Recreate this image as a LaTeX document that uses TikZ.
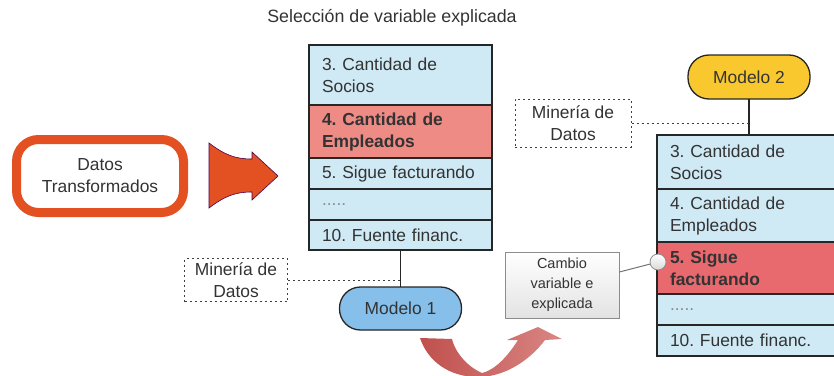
\documentclass[tikz,border=0pt]{standalone}
\usepackage{fontspec}
\setmainfont{Liberation Sans}
\usetikzlibrary{shapes,arrows,positioning,calc}
\usepackage{xcolor}
\frenchspacing
\definecolor{txt}{HTML}{333333}
\definecolor{rowblue}{HTML}{CFE9F5}
\definecolor{redleft}{HTML}{EE8B85}
\definecolor{redright}{HTML}{E8696E}
\definecolor{modblue}{HTML}{85BFEA}
\definecolor{modyellow}{HTML}{F8C82E}
\definecolor{orange}{HTML}{E35022}
\definecolor{swoopdark}{HTML}{C0504D}
\definecolor{swooplight}{HTML}{D98684}
\newcommand{\rowfont}{\fontsize{17.4}{22}\selectfont}
\newcommand{\notefont}{\fontsize{14.5}{20}\selectfont}
\tikzstyle{varcell} = [rectangle, draw=black!85, line width=1.3pt, fill=rowblue, outer sep=0pt, inner xsep=13pt, inner ysep=2pt, text width=157pt, align=left, text=txt, font=\rowfont]
\tikzstyle{rightcol} = [text width=158pt]
\tikzstyle{selcell} = [varcell, font=\rowfont\bfseries]
\tikzstyle{modelpill} = [rectangle, rounded corners=21pt, minimum width=122pt, minimum height=43pt, draw=black!85, line width=1.3pt, outer sep=0pt, text=txt, font=\rowfont]
\tikzstyle{miningbox} = [rectangle, draw=black!75, dash pattern=on 2pt off 3pt, line width=1pt, minimum width=103pt, minimum height=43pt, inner sep=2pt, align=center, text=txt, font=\rowfont]
\tikzstyle{sourcebox} = [rectangle, rounded corners=22pt, draw=orange, line width=9pt, fill=white, minimum width=167pt, minimum height=73pt, align=center, text=txt, font=\rowfont]
\tikzstyle{notebox} = [rectangle, draw=black!45, line width=0.8pt, top color=white, bottom color=black!11, minimum width=114pt, minimum height=66pt, inner sep=2pt, align=center, text=txt, font=\notefont]
\tikzstyle{pinball} = [circle, draw=black!45, line width=0.8pt, top color=white, bottom color=black!15, minimum size=16pt, inner sep=0pt]
\tikzstyle{link} = [draw=black!85, line width=1.3pt]
\tikzstyle{dotlink} = [draw=black!75, dash pattern=on 2pt off 3pt, line width=1pt]

\begin{document}
\begin{tikzpicture}[x=1pt, y=-1pt]
    \useasboundingbox (0,0) rectangle (834,375);
    % Title
    \node (title) [text=txt, font=\fontsize{17.8}{22}\selectfont] at (392,18) {Selección de variable explicada};

    % Input data and block arrow
    \node (input) [sourcebox] at (100,176) {Datos\\Transformados};
    \fill [orange, draw=violet!60!black, line width=0.6pt] (209,143) .. controls (225,155) and (235,159) .. (252,159) -- (252,152) -- (278,176) -- (252,200) -- (252,192) .. controls (235,192) and (225,196) .. (209,208) -- cycle;

    % Left stack
    \node (l3) [varcell, anchor=north west, minimum height=60pt] at (309,45) {3. Cantidad de\\Socios};
    \node (l4) [selcell, fill=redleft, below=0pt of l3, minimum height=53pt] {4. Cantidad de\\Empleados};
    \node (l5) [varcell, below=0pt of l4, minimum height=31pt] {5. Sigue facturando};
    \node (ldots) [varcell, below=0pt of l5, minimum height=31pt] {\textcolor{black!45}{.....}};
    \node (l10) [varcell, below=0pt of ldots, minimum height=30pt] {10. Fuente financ.};

    \node (mod1) [modelpill, fill=modblue, below=37pt of l10] {Modelo 1};
    \node (min1) [miningbox] at (236,280) {Minería de\\Datos};

    % Right stack
    \node (r3) [varcell, rightcol, anchor=north west, minimum height=54pt] at (657,135) {3. Cantidad de\\Socios};
    \node (r4) [varcell, rightcol, below=0pt of r3, minimum height=53pt] {4. Cantidad de\\Empleados};
    \node (r5) [selcell, rightcol, fill=redright, below=0pt of r4, minimum height=52pt] {5. Sigue\\facturando};
    \node (rdots) [varcell, rightcol, below=0pt of r5, minimum height=31pt] {\textcolor{black!45}{.....}};
    \node (r10) [varcell, rightcol, below=0pt of rdots, minimum height=31pt] {10. Fuente financ.};

    \node (mod2) [modelpill, fill=modyellow, above=36pt of r3.north, minimum height=44pt] {Modelo 2};
    \node (min2) [miningbox, minimum width=116pt, minimum height=48pt] at (573,123) {Minería de\\Datos};

    % Change note
    \node (change) [notebox] at (562,285) {Cambio\\variable e\\explicada};
    \node (pin) [pinball] at (658,262) {};

    % Connectors
    \draw [link] (l10.south) -- (mod1.north);
    \draw [dotlink] (min1.east) -- (min1.east -| l10.south);
    \draw [link] (mod2.south) -- (r3.north);
    \draw [dotlink] (min2.east) -- (min2.east -| mod2.south);
    \draw [draw=black!55, line width=1pt] ([yshift=13pt]change.east) -- (pin);

    % Curved arrow
    \shade [left color=swoopdark, middle color=swoopdark!80!swooplight, right color=swooplight] (420,338) .. controls (428,362) and (450,377) .. (478,377) .. controls (505,377) and (530,360) .. (545,340) -- (562,339) -- (538,327) -- (507,340) -- (518,340) .. controls (508,356) and (495,370) .. (482,373) .. controls (470,368) and (456,355) .. (452,339) -- cycle;
\end{tikzpicture}
\end{document}
